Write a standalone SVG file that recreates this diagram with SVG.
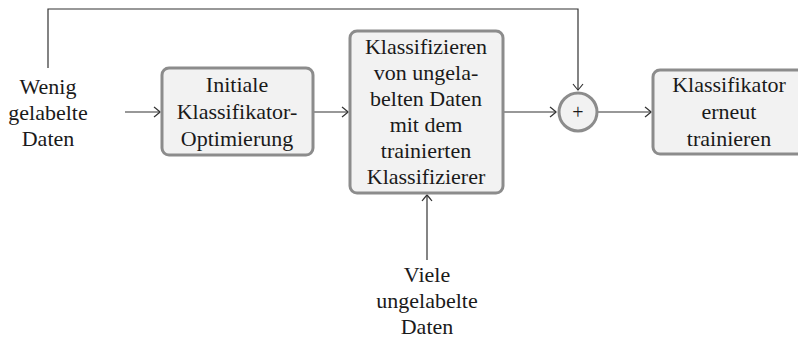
<svg xmlns="http://www.w3.org/2000/svg" width="798" height="338" viewBox="0 0 798 338">
<style>
text{font-family:"Liberation Serif","Times New Roman",serif;font-size:22px;fill:#1a1a1a;text-anchor:middle}
.box{fill:#f2f2f2;stroke:#8c8c8c;stroke-width:3}
.ln{fill:none;stroke:#333;stroke-width:1.2}
</style>
<defs>
<marker id="ah" viewBox="-8 -6 10 12" refX="0" refY="0" markerWidth="10" markerHeight="12" markerUnits="userSpaceOnUse" orient="auto">
<path d="M-6,-5 Q-1,-1 0,0 Q-1,1 -6,5" fill="none" stroke="#333" stroke-width="1.2"/>
</marker>
</defs>
<g id="connectors">
<path class="ln" d="M48,68 V9 H578 V90" marker-end="url(#ah)"/>
<path class="ln" d="M125,112 H160" marker-end="url(#ah)"/>
<path class="ln" d="M313,112 H348" marker-end="url(#ah)"/>
<path class="ln" d="M503,112 H556" marker-end="url(#ah)"/>
<path class="ln" d="M598,112 H651" marker-end="url(#ah)"/>
<path class="ln" d="M427,260 V195" marker-end="url(#ah)"/>
</g>
<g id="wenig">
<text x="48" y="94">Wenig</text>
<text x="48" y="120">gelabelte</text>
<text x="48" y="146">Daten</text>
</g>
<g id="initiale">
<rect class="box" x="162" y="68" width="151" height="87" rx="7"/>
<text x="237" y="92">Initiale</text>
<text x="237" y="119">Klassifikator-</text>
<text x="237" y="146">Optimierung</text>
</g>
<g id="klassifizieren">
<rect class="box" x="350" y="31" width="153" height="162" rx="7"/>
<text x="426" y="54">Klassifizieren</text>
<text x="426" y="80">von ungela-</text>
<text x="426" y="106">belten Daten</text>
<text x="426" y="132">mit dem</text>
<text x="426" y="158">trainierten</text>
<text x="426" y="184">Klassifizierer</text>
</g>
<g id="plus">
<circle class="box" cx="578" cy="112" r="19"/>
<text x="578" y="119" style="font-size:20px">+</text>
</g>
<g id="erneut">
<rect class="box" x="653" y="70" width="160" height="84" rx="7"/>
<text x="729" y="92">Klassifikator</text>
<text x="729" y="119">erneut</text>
<text x="729" y="146">trainieren</text>
</g>
<g id="viele">
<text x="427" y="282">Viele</text>
<text x="427" y="308">ungelabelte</text>
<text x="427" y="334">Daten</text>
</g>
</svg>
